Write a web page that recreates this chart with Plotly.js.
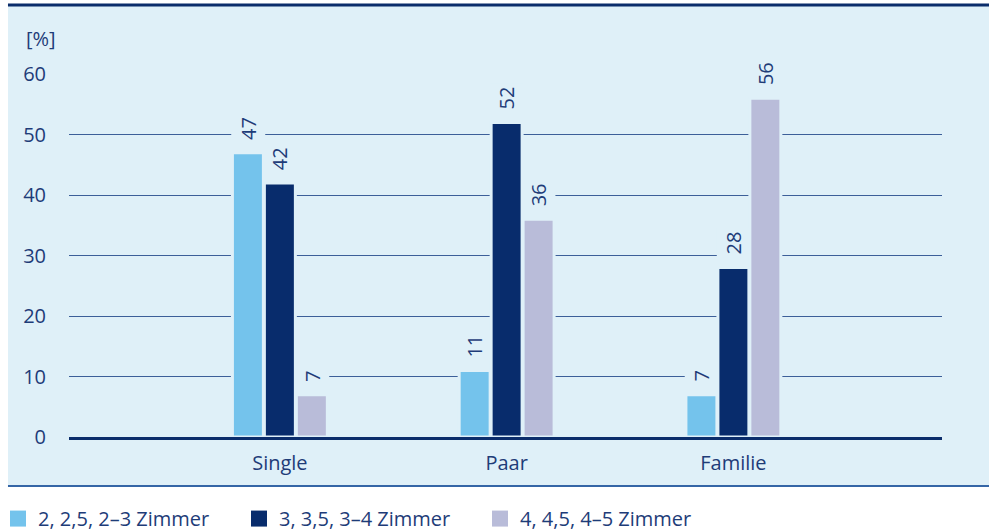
<!DOCTYPE html>
<html><head><meta charset="utf-8">
<script src="https://cdn.plot.ly/plotly-3.0.1.min.js"></script>
<style>html,body{margin:0;padding:0;background:#fff}#chart{width:989px;height:531px}</style>
</head><body><div id="chart"></div>
<script>
const categories = ['Single', 'Paar', 'Familie'];
const seriesNames = ['2, 2,5, 2\u20133 Zimmer', '3, 3,5, 3\u20134 Zimmer', '4, 4,5, 4\u20135 Zimmer'];
const zimmer2 = [47, 11, 7];
const zimmer3 = [42, 52, 28];
const zimmer4 = [7, 36, 56];
const yTicks = [0, 10, 20, 30, 40, 50, 60];

const colors = ['#74c3ec', '#082c6c', '#b9bcd9'];
const panel = '#dff0f8';
const textColor = '#1e3c78';
const font = 'Open Sans, Noto Sans, sans-serif';
const seriesValues = [zimmer2, zimmer3, zimmer4];

const traces = seriesValues.map((vals, i) => ({
  type: 'bar', x: categories, y: vals, name: seriesNames[i],
  marker: {color: colors[i], line: {color: panel, width: 3}},
  showlegend: false, hoverinfo: 'skip'
}));
seriesNames.forEach((n, i) => traces.push({
  type: 'scatter', mode: 'markers', x: [null], y: [null], name: n,
  marker: {symbol: 'square', size: 16, color: colors[i]}, showlegend: true, hoverinfo: 'skip'
}));

// value labels, placed through the axes at each bar's category/value
const slotPx = 32;
const valueLabels = [];
seriesValues.forEach((vals, i) => vals.forEach((v, j) => valueLabels.push({
  x: categories[j], y: v, xref: 'x', yref: 'y', text: String(v), showarrow: false,
  textangle: -90, xanchor: 'center', yanchor: 'bottom', xshift: (i - 1) * slotPx, yshift: 9,
  bgcolor: panel, borderpad: 3, font: {family: font, size: 20, color: textColor}
})));

const x0 = -0.0699, x1 = 1.0539, yTop = 1.19, yBot = -0.135;
const layout = {
  width: 989, height: 531,
  margin: {l: 69, r: 47, t: 74, b: 94, autoexpand: false},
  paper_bgcolor: '#ffffff', plot_bgcolor: 'rgba(0,0,0,0)',
  font: {family: font, size: 20, color: textColor},
  barmode: 'group', bargap: 0.577, bargroupgap: 0.031,
  xaxis: {range: [-0.93, 2.92], showgrid: false, showline: true, linecolor: '#0b2d6b', linewidth: 3,
          layer: 'above traces', ticks: '', ticklabelstandoff: 6,
          tickfont: {size: 20, color: textColor}, fixedrange: true, automargin: false},
  yaxis: {range: [0, 60], tickvals: yTicks, ticktext: yTicks.map(String), showgrid: true,
          gridcolor: '#3c5f99', gridwidth: 1, zeroline: false,
          showline: false, ticks: '', ticklabelstandoff: 22, tickfont: {size: 20, color: textColor},
          fixedrange: true, automargin: false},
  showlegend: true,
  legend: {orientation: 'h', x: -0.0813, xanchor: 'left', y: -0.171, yanchor: 'top',
           entrywidth: 196, entrywidthmode: 'pixels', bgcolor: 'rgba(0,0,0,0)',
           font: {family: font, size: 20, color: textColor}, itemclick: false, itemdoubleclick: false},
  shapes: [
    {type: 'rect', xref: 'paper', yref: 'paper', x0: x0, x1: x1, y0: yBot, y1: yTop,
     fillcolor: panel, line: {width: 0}, layer: 'below'},
    {type: 'line', xref: 'paper', yref: 'paper', x0: x0, x1: x1, y0: yTop, y1: yTop,
     line: {color: '#0b2d6b', width: 3}, layer: 'below'},
    {type: 'line', xref: 'paper', yref: 'paper', x0: x0, x1: x1, y0: yBot, y1: yBot,
     line: {color: '#3566a6', width: 2}, layer: 'below'}
  ],
  annotations: [{text: '[%]', xref: 'paper', yref: 'paper', x: -0.052, y: 1.099, xanchor: 'left', yanchor: 'middle',
                 showarrow: false, font: {family: font, size: 20, color: textColor}}].concat(valueLabels)
};
Plotly.newPlot('chart', traces, layout, {displayModeBar: false, staticPlot: true});
</script></body></html>
